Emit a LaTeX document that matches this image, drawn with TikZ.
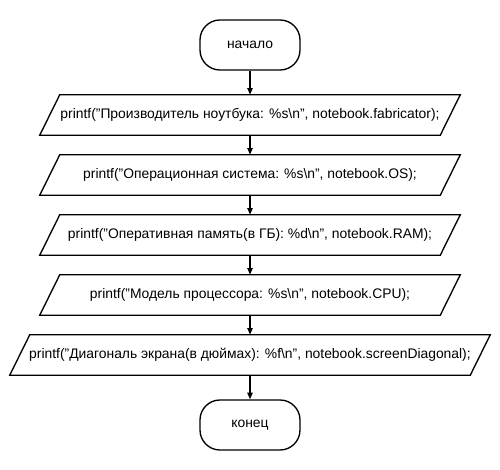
\documentclass[tikz,border=0pt]{standalone}
\usepackage{fontspec}
\setmainfont{Liberation Sans}
\usetikzlibrary{arrows.meta}
\tikzset{
  px/.style={x=0.75pt,y=-0.75pt},
  term/.style={draw,line width=1pt,rounded corners=15pt,minimum width=75pt,minimum height=37.5pt,inner sep=0pt,font=\fontsize{10.4}{12}\selectfont},
  iobox/.style={minimum height=30pt,inner sep=0pt,font=\fontsize{10.4}{12}\selectfont},
  conn/.style={line width=1pt,-{Triangle[length=5pt,width=4pt]}}
}
\newcommand{\para}[1]{\draw[line width=1pt] ([xshift=-7.5pt]#1.south west) -- ([xshift=-7.5pt]#1.south east) -- ([xshift=7.5pt]#1.north east) -- ([xshift=7.5pt]#1.north west) -- cycle;}
\begin{document}
\begin{tikzpicture}[px]
\useasboundingbox (0,0) rectangle (500,470);
\node[term] (start) at (250,45) {начало};
\node[iobox,minimum width=300pt] (p1) at (250,115) {printf(\symbol{34}Производитель ноутбука: \%s\textbackslash n\symbol{34}, notebook.fabricator);};
\node[iobox,minimum width=300pt] (p2) at (250,175) {printf(\symbol{34}Операционная система: \%s\textbackslash n\symbol{34}, notebook.OS);};
\node[iobox,minimum width=300pt] (p3) at (250,235) {printf(\symbol{34}Оперативная память(в ГБ): \%d\textbackslash n\symbol{34}, notebook.RAM);};
\node[iobox,minimum width=300pt] (p4) at (250,295) {printf(\symbol{34}Модель процессора: \%s\textbackslash n\symbol{34}, notebook.CPU);};
\node[iobox,minimum width=345pt] (p5) at (250,355) {printf(\symbol{34}Диагональ экрана(в дюймах): \%f\textbackslash n\symbol{34}, notebook.screenDiagonal);};
\node[term] (end) at (250,425) {конец};
\para{p1}\para{p2}\para{p3}\para{p4}\para{p5}
\draw[conn] (start) -- (p1);
\draw[conn] (p1) -- (p2);
\draw[conn] (p2) -- (p3);
\draw[conn] (p3) -- (p4);
\draw[conn] (p4) -- (p5);
\draw[conn] (p5) -- (end);
\end{tikzpicture}
\end{document}
